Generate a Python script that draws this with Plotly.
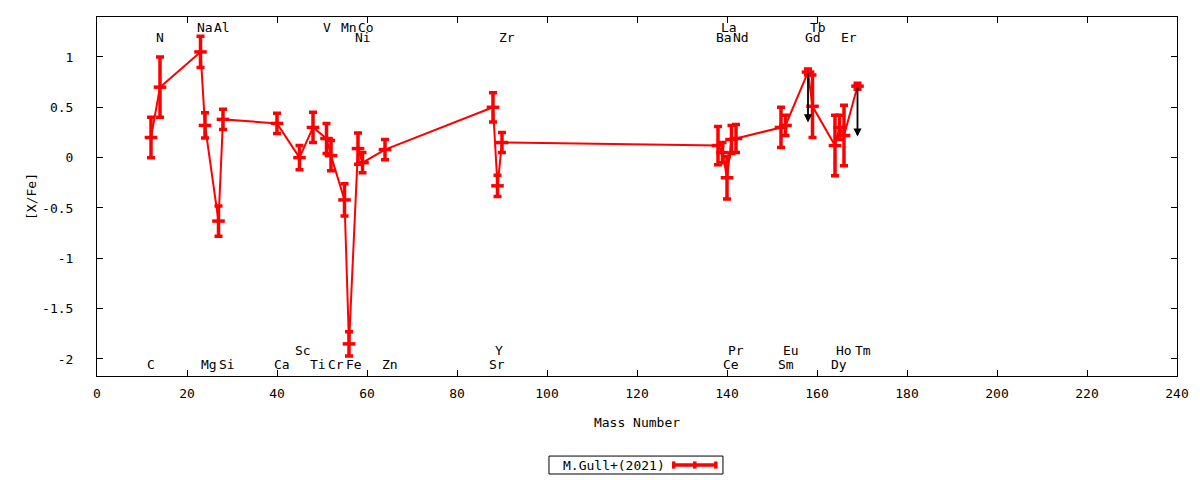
import plotly.graph_objects as go

# abundance pattern, [X/Fe] vs mass number
mass = [12, 14, 23, 24, 27, 28, 40, 45, 48, 51, 52, 55, 56, 58, 59, 64,
        88, 89, 90, 138, 139, 140, 141, 142, 152, 153, 158, 159, 164, 165, 166, 169]
xfe = [0.20, 0.70, 1.05, 0.32, -0.63, 0.38, 0.34, 0.00, 0.30, 0.19, 0.02, -0.42, -1.85, 0.09, -0.05, 0.08,
       0.50, -0.28, 0.15, 0.12, 0.05, -0.20, 0.18, 0.19, 0.30, 0.32, 0.85, 0.51, 0.12, 0.30, 0.22, 0.71]
err = [0.20, 0.30, 0.155, 0.125, 0.15, 0.10, 0.10, 0.12, 0.15, 0.15, 0.15, 0.16, 0.12, 0.155, 0.10, 0.10,
       0.145, 0.105, 0.10, 0.19, 0.10, 0.21, 0.14, 0.14, 0.20, 0.10, 0.03, 0.31, 0.30, 0.12, 0.30, 0.03]

# upper limits (drawn as arrows)
lim_mass = [158, 169]
lim_top = [0.85, 0.71]
lim_bottom = [0.35, 0.21]

# element labels: name, x position, y position
lab_names = ["Na", "Al", "V", "Mn", "Co", "La", "Tb",
             "N", "Ni", "Zr", "Ba", "Nd", "Gd", "Er",
             "Sc", "Y", "Pr", "Eu", "Ho", "Tm",
             "C", "Mg", "Si", "Ca", "Ti", "Cr", "Fe", "Zn", "Sr", "Ce", "Sm", "Dy"]
lab_x = [23.9, 27.8, 51.0, 56.1, 59.8, 140.4, 160.2,
         14.1, 59.0, 91.0, 139.3, 143.1, 159.0, 167.1,
         45.8, 89.3, 142.0, 154.3, 166.0, 170.2,
         12.0, 24.9, 28.9, 41.1, 49.2, 53.0, 57.1, 65.1, 88.9, 140.9, 153.2, 164.9]
lab_y = [1.29] * 7 + [1.19] * 7 + [-1.92] * 6 + [-2.05] * 12

font = "DejaVu Sans Mono"
red = "#ff0000"

fig = go.Figure()
fig.add_trace(go.Scatter(
    x=mass, y=xfe, mode="lines+markers", name="M.Gull+(2021)",
    line=dict(color=red, width=2),
    marker=dict(symbol="line-ew", size=9, line=dict(color=red, width=3.5)),
    error_y=dict(type="data", array=err, color=red, thickness=3.5, width=4),
    showlegend=False,
))

for m, t, b in zip(lim_mass, lim_top, lim_bottom):
    fig.add_annotation(x=m, y=b, ax=m, ay=t, xref="x", yref="y", axref="x", ayref="y",
                       text="", showarrow=True, arrowhead=2, arrowsize=0.9, arrowwidth=1.8,
                       arrowcolor="black")

for n, lx, ly in zip(lab_names, lab_x, lab_y):
    fig.add_annotation(x=lx, y=ly, text=n, showarrow=False, xref="x", yref="y",
                       font=dict(family=font, size=13, color="black"))

# legend box drawn by hand (text first, then sample)
fig.add_shape(type="rect", xref="paper", yref="paper", x0=0.4185, x1=0.5796, y0=-0.273, y1=-0.223,
              line=dict(color="black", width=1))
fig.add_annotation(x=0.479, y=-0.248, xref="paper", yref="paper", text="M.Gull+(2021)",
                   xanchor="center", yanchor="middle",
                   showarrow=False, font=dict(family=font, size=13, color="black"))
fig.add_shape(type="line", xref="paper", yref="paper", x0=0.534, x1=0.573, y0=-0.248, y1=-0.248,
              line=dict(color=red, width=3.5))
for px in [0.534, 0.5535, 0.573]:
    fig.add_shape(type="line", xref="paper", yref="paper", x0=px, x1=px, y0=-0.258, y1=-0.238,
                  line=dict(color=red, width=3.5))

# page has an 8px body margin, so margins are shifted to compensate
fig.update_layout(
    width=1200, height=480,
    paper_bgcolor="white", plot_bgcolor="white",
    margin=dict(l=89, r=31, t=9, b=112),
    font=dict(family=font, size=13, color="black"),
)
fig.update_xaxes(
    range=[0, 240], tickvals=list(range(0, 241, 20)),
    title=dict(text="Mass Number", standoff=18, font=dict(family=font, size=13)),
    showgrid=False, zeroline=False, showline=True, linecolor="black", linewidth=1,
    mirror="ticks", ticks="inside", ticklen=6, tickcolor="black", ticklabelstandoff=5,
    automargin=False,
)
fig.update_yaxes(
    range=[-2.169, 1.397],
    tickvals=[-2, -1.5, -1, -0.5, 0, 0.5, 1],
    ticktext=["-2", "-1.5", "-1", "-0.5", "0", "0.5", "1"],
    title=dict(text="[X/Fe]", standoff=2, font=dict(family=font, size=13)),
    showgrid=False, zeroline=False, showline=True, linecolor="black", linewidth=1,
    mirror="ticks", ticks="inside", ticklen=6, tickcolor="black", ticklabelstandoff=20,
    automargin=False,
)

fig.write_html("out.html")
